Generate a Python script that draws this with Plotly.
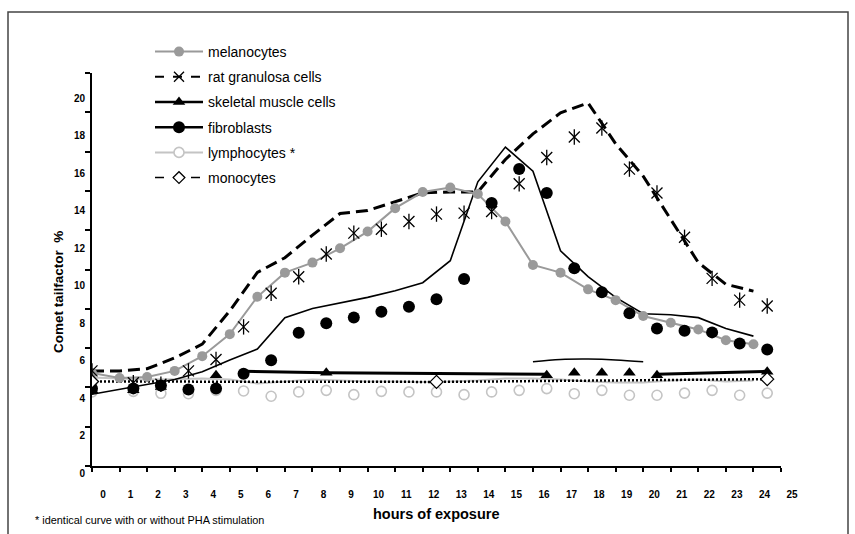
import plotly.graph_objects as go

# ---------------- data ----------------
hours = list(range(25))
x_tick_labels = [str(h) for h in range(26)]
y_tick_values = list(range(0, 21, 2))
y_tick_labels = [str(v) for v in y_tick_values]

melanocytes = [4.73, 4.48, 4.53, 4.84, 5.59, 6.71, 8.61, 9.84, 10.35, 11.08, 11.93, 13.12, 13.94,
               14.17, 13.84, 12.44, 10.23, 9.84, 8.99, 8.44, 7.63, 7.29, 6.95, 6.40, 6.20]

rat_granulosa_points = [4.84, 4.24, 4.16, 4.84, 5.42, 7.08, 8.79, 9.63, 10.79, 11.85, 12.05, 12.44, 12.82,
                        12.87, 12.95, 14.36, 15.70, 16.74, 17.20, 15.11, 13.89, 11.64, 9.55, 8.44, 8.14]
rat_granulosa_curve = [4.84, 4.84, 4.95, 5.50, 6.20, 7.90, 9.85, 10.60, 11.75, 12.85, 13.00, 13.45, 13.90,
                       13.95, 13.95, 15.60, 16.90, 17.97, 18.48, 16.40, 14.75, 12.55, 10.35, 9.25, 8.90]

skeletal_points = [3.85, 3.85, None, None, 4.62, None, None, None, 4.75, None, None, None, None,
                   None, None, None, 4.62, 4.75, 4.75, 4.75, 4.62, None, None, None, 4.80]
skeletal_curve_hours = [5, 8, 16, None, 20, 24]
skeletal_curve = [4.82, 4.75, 4.67, None, 4.67, 4.82]
skeletal_upper_hours = [16, 17, 18, 19, 20]
skeletal_upper = [5.30, 5.42, 5.44, 5.40, 5.30]

fibroblast_points = [3.95, 3.95, 4.10, 3.89, 3.94, 4.70, 5.38, 6.78, 7.26, 7.56, 7.85, 8.10, 8.49,
                     9.52, 13.38, 15.11, 13.89, 10.06, 8.84, 7.77, 7.00, 6.88, 6.80, 6.23, 5.93]
fibroblast_curve = [3.65, 3.90, 4.15, 4.40, 4.80, 5.40, 5.95, 7.55, 8.02, 8.30, 8.58, 8.92, 9.33,
                    10.45, 14.46, 16.23, 15.00, 10.95, 9.64, 8.58, 7.75, 7.70, 7.55, 7.00, 6.61]

lymphocyte_points = [3.77, 3.80, 3.70, 3.68, 3.85, 3.82, 3.55, 3.77, 3.85, 3.63, 3.80, 3.77, 3.77,
                     3.63, 3.77, 3.85, 3.94, 3.68, 3.85, 3.60, 3.60, 3.71, 3.85, 3.60, 3.71]
lymphocyte_curve = [4.50, 4.45, 4.40, 4.42, 4.45, 4.40, 4.20, 4.30, 4.40, 4.35, 4.30, 4.30, 4.28,
                    4.30, 4.35, 4.45, 4.45, 4.40, 4.30, 4.25, 4.25, 4.35, 4.40, 4.30, 4.35]

monocyte_points = [4.30] + [None] * 11 + [4.28] + [None] * 11 + [4.42]

# ---------------- styling ----------------
FONT = "Arial, Liberation Sans, sans-serif"
GRAY = "#9a9a9a"
LIGHT = "#c4c4c4"


def marker_pos(hs):
    # point markers of most series sit in the middle of each hour slot
    return [None if h is None else (0 if h == 0 else h + 0.5) for h in hs]


fig = go.Figure()

# lymphocytes light line
fig.add_trace(go.Scatter(x=hours, y=lymphocyte_curve, mode="lines",
                         line=dict(color=LIGHT, width=2), showlegend=False, hoverinfo="skip"))
# monocytes dotted line
fig.add_trace(go.Scatter(x=marker_pos(hours), y=monocyte_points, mode="lines", connectgaps=True,
                         line=dict(color="black", width=2.5, dash="2px,2px"),
                         showlegend=False, hoverinfo="skip"))
# lymphocyte open circles
fig.add_trace(go.Scatter(x=marker_pos(hours), y=lymphocyte_points, mode="markers",
                         marker=dict(symbol="circle-open", size=10, color=LIGHT, line=dict(width=1.6, color=LIGHT)),
                         showlegend=False))
# skeletal muscle lines
fig.add_trace(go.Scatter(x=marker_pos(skeletal_curve_hours), y=skeletal_curve, mode="lines",
                         line=dict(color="black", width=3), showlegend=False, hoverinfo="skip"))
fig.add_trace(go.Scatter(x=skeletal_upper_hours, y=skeletal_upper, mode="lines",
                         line=dict(color="black", width=1.5, shape="spline"), showlegend=False, hoverinfo="skip"))
# fibroblast thin line
fig.add_trace(go.Scatter(x=hours, y=fibroblast_curve, mode="lines",
                         line=dict(color="black", width=1.6), showlegend=False, hoverinfo="skip"))
# rat granulosa dashed line
fig.add_trace(go.Scatter(x=hours, y=rat_granulosa_curve, mode="lines",
                         line=dict(color="black", width=3, dash="12px,6px"), showlegend=False, hoverinfo="skip"))
# melanocytes
fig.add_trace(go.Scatter(x=hours, y=melanocytes, mode="lines+markers",
                         line=dict(color=GRAY, width=2),
                         marker=dict(symbol="circle", size=10, color=GRAY), showlegend=False))
# fibroblast dots
fig.add_trace(go.Scatter(x=marker_pos(hours), y=fibroblast_points, mode="markers",
                         marker=dict(symbol="circle", size=12, color="black"), showlegend=False))
# skeletal triangles
fig.add_trace(go.Scatter(x=marker_pos(hours), y=skeletal_points, mode="markers",
                         marker=dict(symbol="triangle-up", size=11, color="black"), showlegend=False))
# rat granulosa stars (x + vertical bar)
for sym in ("x-thin-open", "line-ns-open"):
    fig.add_trace(go.Scatter(x=marker_pos(hours), y=rat_granulosa_points, mode="markers",
                             marker=dict(symbol=sym, size=11, color="black", line=dict(width=1.3, color="black")),
                             showlegend=False))
# monocyte diamonds
fig.add_trace(go.Scatter(x=marker_pos(hours), y=monocyte_points, mode="markers",
                         marker=dict(symbol="diamond", size=10, color="white", line=dict(width=1.3, color="black")),
                         showlegend=False))

# ---------------- legend entries ----------------
legend_items = [
    ("melanocytes", dict(color=GRAY, width=2), dict(symbol="circle", size=10, color=GRAY)),
    ("rat granulosa cells", dict(color="black", width=2, dash="dash"),
     dict(symbol="x-thin-open", size=10, color="black", line=dict(width=1.3, color="black"))),
    ("skeletal muscle cells", dict(color="black", width=2.5), dict(symbol="triangle-up", size=11, color="black")),
    ("fibroblasts", dict(color="black", width=2.5), dict(symbol="circle", size=12, color="black")),
    ("lymphocytes *", dict(color=LIGHT, width=2),
     dict(symbol="circle", size=10, color="white", line=dict(width=1.6, color=LIGHT))),
    ("monocytes", dict(color="black", width=1.5, dash="dash"),
     dict(symbol="diamond", size=9, color="white", line=dict(width=1.3, color="black"))),
]
for i, (name, ln, mk) in enumerate(legend_items):
    fig.add_trace(go.Scatter(x=[None], y=[None], mode="lines+markers", name=name, line=ln, marker=mk,
                             legendgroup=f"g{i}", showlegend=True))

# invisible trace to carry the label axis
fig.add_trace(go.Scatter(x=[None], y=[None], yaxis="y2", showlegend=False, hoverinfo="skip"))

# ---------------- layout ----------------
L, R, T, B = 92, 74, 73, 68
W, H = 855, 534
PW, PH = W - L - R, H - T - B


def px_x(p):
    return (p - L) / PW


def px_y(p):
    return (H - B - p) / PH


fig.update_layout(
    width=W, height=H,
    margin=dict(l=L, r=R, t=T, b=B),
    paper_bgcolor="white", plot_bgcolor="rgba(0,0,0,0)",
    font=dict(family=FONT, color="black"),
    xaxis=dict(range=[0, 25], tickvals=list(range(26)), ticktext=x_tick_labels,
               ticks="outside", ticklen=4, tickwidth=2, tickcolor="black",
               showline=True, linewidth=2, linecolor="black", showgrid=False, zeroline=False,
               tickfont=dict(family=FONT, size=10, weight="bold"),
               ticklabelshift=11, ticklabelstandoff=14),
    yaxis=dict(range=[0, 20], tickvals=y_tick_values, showticklabels=False,
               ticks="outside", ticklen=5, tickwidth=2, tickcolor="black",
               showline=True, linewidth=2, linecolor="black", showgrid=False, zeroline=False),
    yaxis2=dict(domain=[0, px_y(91)], anchor="free", position=0, range=[0, 20],
                tickvals=y_tick_values, ticktext=y_tick_labels,
                ticks="outside", ticklen=5, tickcolor="rgba(0,0,0,0)",
                showline=False, showgrid=False, zeroline=False, ticklabelshift=7,
                tickfont=dict(family=FONT, size=10, weight="bold")),
    legend=dict(x=px_x(150), y=px_y(36), xanchor="left", yanchor="top",
                font=dict(family=FONT, size=14), bgcolor="rgba(0,0,0,0)",
                tracegroupgap=4, itemwidth=48),
    annotations=[
        dict(text="Comet tailfactor\u00a0 %", x=px_x(58), y=px_y(292), xref="paper", yref="paper",
             showarrow=False, textangle=-90, xanchor="center", yanchor="middle",
             font=dict(family=FONT, size=13.5, weight="bold")),
        dict(text="hours of exposure", x=px_x(436), y=px_y(514), xref="paper", yref="paper",
             showarrow=False, xanchor="center", yanchor="middle",
             font=dict(family=FONT, size=14.5, weight="bold")),
        dict(text="* identical curve with or without PHA stimulation", x=px_x(33), y=px_y(520),
             xref="paper", yref="paper", showarrow=False, xanchor="left", yanchor="middle",
             font=dict(family=FONT, size=10.9)),
    ],
    shapes=[dict(type="rect", xref="paper", yref="paper",
                 x0=px_x(8), x1=px_x(848), y0=px_y(545), y1=px_y(12),
                 line=dict(color="#444444", width=1.5))],
)

fig.write_html("out.html", config={"displayModeBar": False},
               post_script="document.body.style.margin='0px';")
